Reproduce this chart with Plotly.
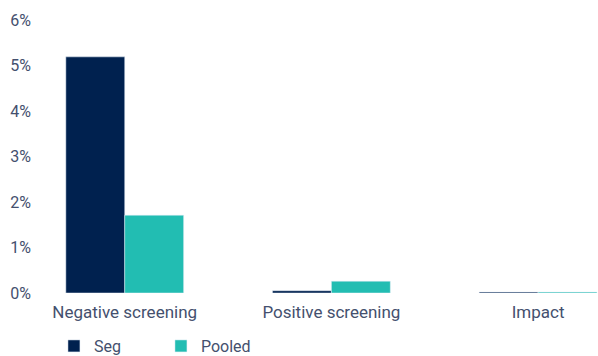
import plotly.graph_objects as go

categories = ["Negative screening", "Positive screening", "Impact"]
seg = [0.0519, 0.0005, 0.0002]
pooled = [0.0171, 0.0026, 0.0002]
y_ticks = [0, 0.01, 0.02, 0.03, 0.04, 0.05, 0.06]
y_tick_labels = ["0%", "1%", "2%", "3%", "4%", "5%", "6%"]

font_color = "#44506e"
fnt = "Roboto, sans-serif"
fig = go.Figure()
fig.add_trace(go.Bar(name="Seg", x=categories, y=seg, marker_color="#00214f"))
fig.add_trace(go.Bar(name="Pooled", x=categories, y=pooled, marker_color="#22bdb2"))

fig.update_layout(
    width=598, height=356,
    margin=dict(l=40, r=0, t=20, b=63, autoexpand=False),
    barmode="group", bargap=0.43, bargroupgap=0,
    plot_bgcolor="white", paper_bgcolor="white",
    font=dict(family=fnt, size=16, color=font_color),
    xaxis=dict(range=[-0.41, 2.29], showgrid=False, showline=False,
               ticks="outside", ticklen=4, tickcolor="rgba(0,0,0,0)",
               tickfont=dict(family=fnt, size=17, color=font_color)),
    yaxis=dict(range=[0, 0.06], tickvals=y_ticks, ticktext=y_tick_labels,
               showgrid=False, zeroline=False, showline=False, ticks="",
               ticklabelstandoff=8,
               tickfont=dict(family=fnt, size=16, color=font_color)),
    legend=dict(orientation="h", x=0.025, y=0.028, xanchor="left", yanchor="middle",
                yref="container",
                font=dict(family=fnt, size=16, color=font_color), itemwidth=30,
                entrywidth=62, entrywidthmode="pixels"),
    showlegend=True,
)
fig.write_html("out.html")
